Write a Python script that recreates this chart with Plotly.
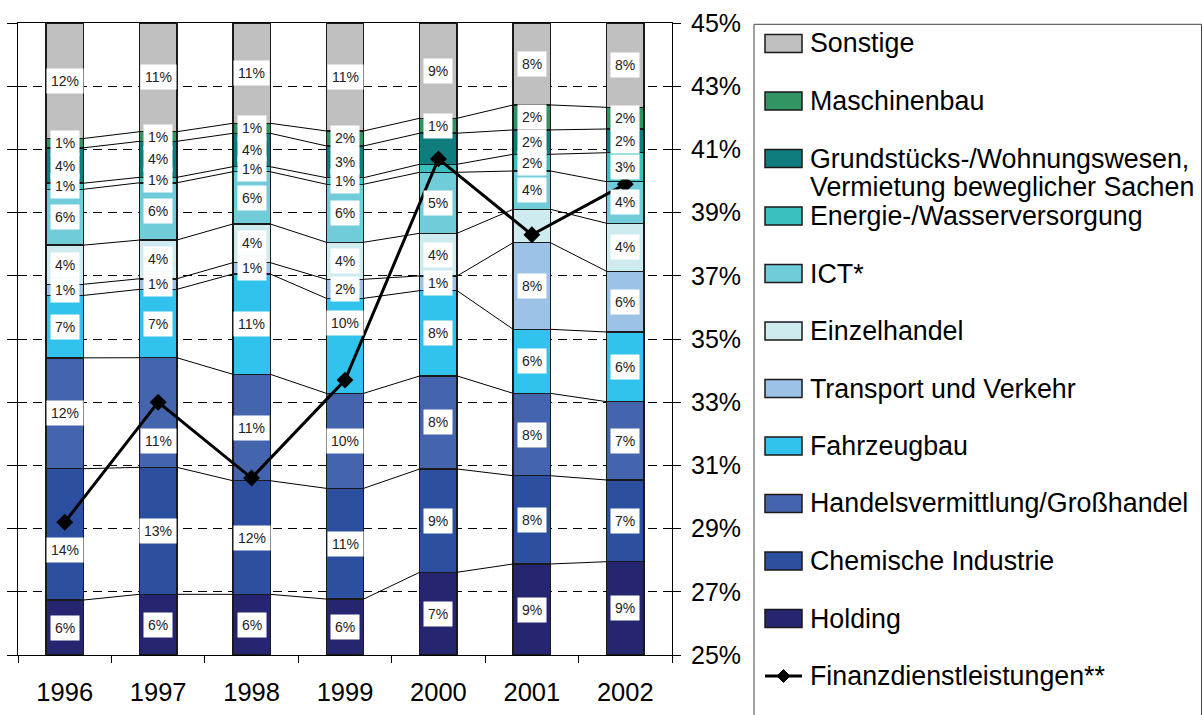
import plotly.graph_objects as go

# Shares of the individual sectors (percent of all holdings), per year
years = ["1996", "1997", "1998", "1999", "2000", "2001", "2002"]

holding = [5.9, 6.24, 6.43, 5.71, 7.41, 8.64, 8.53]
chemie = [14.1, 13.06, 12.04, 11.30, 9.25, 8.38, 7.47]
handel_gross = [11.9, 11.27, 11.28, 9.70, 8.33, 7.82, 7.16]
fahrzeugbau = [6.7, 7.03, 10.63, 9.70, 7.64, 6.08, 6.37]
transport = [1.2, 1.09, 1.2, 1.94, 1.32, 8.22, 5.55]
einzelhandel = [4.2, 3.98, 4.1, 3.78, 3.82, 3.17, 4.39]
ict = [6.0, 5.89, 5.54, 5.92, 5.46, 3.64, 3.80]
energie = [0.65, 0.56, 0.53, 0.67, 0.72, 1.59, 2.65]
grundstuecke = [3.8, 3.70, 3.54, 3.24, 2.78, 2.31, 2.17]
maschinenbau = [1.0, 0.99, 1.06, 1.53, 1.34, 2.37, 1.98]
sonstige = [12.4, 11.18, 10.63, 11.02, 8.53, 7.78, 7.71]

# Financial services, plotted against the right-hand axis
finanz = [29.2, 33.0, 30.6, 33.7, 40.7, 38.3, 39.9]

NAME_GRUND = "Grundstücks-/Wohnungswesen,<br>Vermietung beweglicher Sachen"
NAME_FIN = "Finanzdienstleistungen**"

# stacking order, bottom to top
series = [
    ("Holding", holding, "#262670"),
    ("Chemische Industrie", chemie, "#2D4FA0"),
    ("Handelsvermittlung/Großhandel", handel_gross, "#4465AD"),
    ("Fahrzeugbau", fahrzeugbau, "#31C3EE"),
    ("Transport und Verkehr", transport, "#9CC2E7"),
    ("Einzelhandel", einzelhandel, "#CEEBF0"),
    ("ICT*", ict, "#6FCCD8"),
    ("Energie-/Wasserversorgung", energie, "#3BC0C0"),
    (NAME_GRUND, grundstuecke, "#0F7D7D"),
    ("Maschinenbau", maschinenbau, "#319462"),
    ("Sonstige", sonstige, "#C0C0C0"),
]

# segments whose value label is left out
unlabeled = {
    ("Energie-/Wasserversorgung", "2000"),
    (NAME_GRUND, "2000"),
    ("Einzelhandel", "2001"),
}

# labels nudged (pixels, up = positive) so they clear the line series
label_shift = {
    ("Chemische Industrie", "1996"): -16,
    ("Handelsvermittlung/Großhandel", "1997"): -28,
    ("Fahrzeugbau", "1999"): 23,
}

n = len(years)
xs = list(range(n))
BAR_W = 0.4
totals = [sum(vals[i] for _, vals, _ in series) for i in range(n)]

fig = go.Figure()
annotations = []
connector_x, connector_y = [], []
cum = [0.0] * n
for k, (name, vals, color) in enumerate(series):
    share = [v / t * 100 for v, t in zip(vals, totals)]
    fig.add_trace(go.Bar(
        x=xs, y=share, width=BAR_W, name=name.replace("<br>", " "),
        marker=dict(color=color, line=dict(color="#1a1a1a", width=1.5)),
        hovertext=[f"{v:.0f}%" for v in vals], hoverinfo="text+name",
    ))
    for i in range(n):
        if (name, years[i]) in unlabeled:
            continue
        annotations.append(dict(
            x=xs[i], y=cum[i] + share[i] / 2, xref="x", yref="y",
            yshift=label_shift.get((name, years[i]), 0),
            text=f"{round(vals[i]):.0f}%", showarrow=False,
            bgcolor="white", borderpad=4,
            font=dict(size=14, color="#222222"),
        ))
    cum = [c + s for c, s in zip(cum, share)]
    if k < len(series) - 1:
        for i in range(n - 1):
            connector_x += [xs[i] + BAR_W / 2, xs[i + 1] - BAR_W / 2, None]
            connector_y += [cum[i], cum[i + 1], None]

# series lines between neighbouring bars
fig.add_trace(go.Scatter(
    x=connector_x, y=connector_y, mode="lines",
    line=dict(color="black", width=1), hoverinfo="skip", showlegend=False,
))

fig.add_trace(go.Scatter(
    x=xs, y=finanz, yaxis="y2", name=NAME_FIN, mode="lines+markers",
    line=dict(color="black", width=3),
    marker=dict(symbol="diamond", size=13, color="black"),
))

# helper traces so the tick-only overlay axes get drawn
fig.add_trace(go.Scatter(x=[None], y=[None], xaxis="x2", yaxis="y",
                         showlegend=False, hoverinfo="skip"))
fig.add_trace(go.Scatter(x=[None], y=[None], xaxis="x", yaxis="y3",
                         showlegend=False, hoverinfo="skip"))

# ---- hand-drawn legend on the right ----
PLOT_L, PLOT_R, PLOT_T, PLOT_B = 18, 672, 23, 655


def px_x(p):
    return (p - PLOT_L) / (PLOT_R - PLOT_L)


def px_y(p):
    return (PLOT_B - p) / (PLOT_B - PLOT_T)


shapes = [dict(
    type="rect", xref="paper", yref="paper",
    x0=px_x(754), x1=px_x(1201.5), y0=px_y(24.3), y1=px_y(740),
    line=dict(color="#444444", width=1), fillcolor="rgba(0,0,0,0)",
)]

legend_entries = [(name, color) for name, _, color in reversed(series)]
legend_entries.append((NAME_FIN, None))
ROW0, ROW_STEP, LINE_STEP = 43.5, 57.5, 28.5
SW_L, SW_R, TXT_X = 765, 802, 809
LEGEND_FONT = dict(size=26.8, color="black")
for r, (name, color) in enumerate(legend_entries):
    cy = ROW0 + r * ROW_STEP
    if color is not None:
        shapes.append(dict(
            type="rect", xref="paper", yref="paper",
            x0=px_x(SW_L), x1=px_x(SW_R), y0=px_y(cy + 9), y1=px_y(cy - 9),
            fillcolor=color, line=dict(color="#1a1a1a", width=1.5),
        ))
    else:
        shapes.append(dict(
            type="line", xref="paper", yref="paper",
            x0=px_x(SW_L), x1=px_x(SW_R), y0=px_y(cy), y1=px_y(cy),
            line=dict(color="black", width=3),
        ))
        cx, d = (SW_L + SW_R) / 2, 6.5
        shapes.append(dict(
            type="path", xref="paper", yref="paper",
            path=(f"M {px_x(cx - d)},{px_y(cy)} L {px_x(cx)},{px_y(cy - d)} "
                  f"L {px_x(cx + d)},{px_y(cy)} L {px_x(cx)},{px_y(cy + d)} Z"),
            fillcolor="black", line=dict(color="black", width=1),
        ))
    # wrapped names get one text per line, set at the tighter line pitch
    for j, part in enumerate(name.split("<br>")):
        annotations.append(dict(
            x=px_x(TXT_X), y=px_y(cy + j * LINE_STEP), xref="paper",
            yref="paper", xanchor="left", yanchor="middle", text=part,
            showarrow=False, align="left", font=LEGEND_FONT, borderpad=0,
        ))

fig.update_layout(
    width=1203, height=715,
    margin=dict(l=PLOT_L, r=1203 - PLOT_R, t=PLOT_T, b=715 - PLOT_B),
    paper_bgcolor="white", plot_bgcolor="white",
    barmode="stack", showlegend=False,
    font=dict(family="Arial, 'Liberation Sans', sans-serif", color="black"),
    xaxis=dict(
        range=[-0.5, n - 0.5], tickvals=xs, ticktext=years,
        ticks="outside", ticklen=14, tickcolor="rgba(0,0,0,0)",
        tickfont=dict(size=25.5), showline=True, linecolor="black",
        linewidth=1, mirror=True, showgrid=False, zeroline=False,
        automargin=False,
    ),
    xaxis2=dict(
        overlaying="x", anchor="y", side="bottom", range=[-0.5, n - 0.5],
        tickvals=[i - 0.5 for i in range(n + 1)], ticks="outside",
        ticklen=7, tickcolor="black", showticklabels=False,
        showgrid=False, zeroline=False, showline=False, automargin=False,
    ),
    yaxis=dict(
        range=[0, 100], tick0=0, dtick=10, showgrid=True,
        gridcolor="black", gridwidth=1, griddash="9px,6px",
        ticks="outside", ticklen=10, tickcolor="black",
        showticklabels=False, showline=True, linecolor="black",
        zeroline=False, automargin=False,
    ),
    yaxis2=dict(
        overlaying="y", side="right", anchor="x", range=[25, 45],
        tick0=25, dtick=2, ticksuffix="%", ticks="outside", ticklen=8,
        ticklabelstandoff=5,
        tickcolor="black", tickfont=dict(size=25), showline=True,
        linecolor="black", showgrid=False, zeroline=False, automargin=False,
    ),
    yaxis3=dict(
        overlaying="y", side="right", anchor="x", range=[25, 45],
        tick0=25, dtick=2, ticks="inside", ticklen=9, tickcolor="black",
        showticklabels=False, showgrid=False, zeroline=False,
        showline=False, automargin=False,
    ),
    shapes=shapes,
    annotations=annotations,
)

fig.write_html("out.html")
